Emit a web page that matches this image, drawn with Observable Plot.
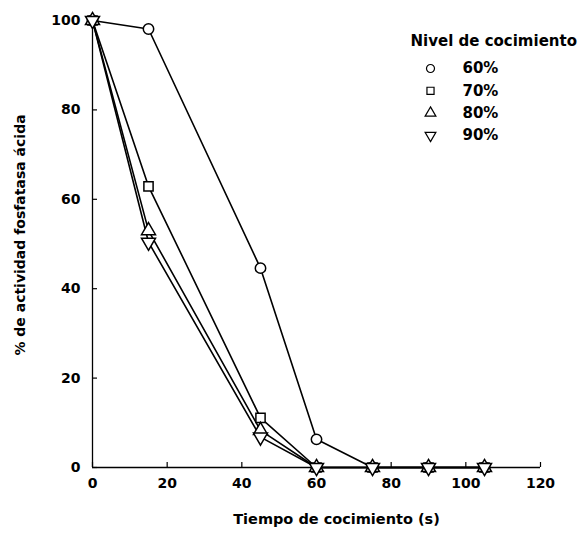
<!DOCTYPE html>
<html>
<head>
<meta charset="utf-8">
<script src="https://cdn.jsdelivr.net/npm/d3@7"></script>
<script src="https://cdn.jsdelivr.net/npm/@observablehq/plot@0.6"></script>
<style>
  html, body { margin: 0; padding: 0; background: #fff; }
</style>
</head>
<body>
<div id="chart"></div>
<script>
// ---- data ----
const times = [0, 15, 45, 60, 75, 90, 105];
const levels = ["60%", "70%", "80%", "90%"];
const s60 = [100, 98.1, 44.6, 6.3, 0, 0, 0];
const s70 = [100, 62.9, 11.1, 0, 0, 0, 0];
const s80 = [100, 53.0, 8.3, 0, 0, 0, 0];
const s90 = [100, 50.4, 6.8, 0, 0, 0, 0];
const xTicks = [0, 20, 40, 60, 80, 100, 120];
const yTicks = [0, 20, 40, 60, 80, 100];
const xLabel = "Tiempo de cocimiento (s)";
const yLabel = "% de actividad fosfatasa ácida";
const legendTitle = "Nivel de cocimiento";

const seriesValues = [s60, s70, s80, s90];
const data = [];
levels.forEach((lv, i) => times.forEach((t, j) => data.push({series: lv, t, v: seriesValues[i][j]})));

const sqrt3 = Math.sqrt(3);
const triangleDown = {
  draw(context, size) {
    const y = -Math.sqrt(size / (sqrt3 * 3));
    context.moveTo(0, -y * 2);
    context.lineTo(-sqrt3 * y, y);
    context.lineTo(sqrt3 * y, y);
    context.closePath();
  }
};

const legendMarks = [
  Plot.text([legendTitle], {frameAnchor: "top-left", text: d => d, dx: 318, dy: 21, textAnchor: "start", lineAnchor: "middle", fontSize: 15}),
  ...levels.map((lv, i) => Plot.dot([lv], {frameAnchor: "top-left", symbol: d => d, dx: 338, dy: 48 + i * 22.3, r: 4, stroke: "black", strokeWidth: 1.2, fill: "white"})),
  ...levels.map((lv, i) => Plot.text([lv], {frameAnchor: "top-left", text: d => d, dx: 370, dy: 48 + i * 22.3, textAnchor: "start", lineAnchor: "middle", fontSize: 15}))
];

const chart = Plot.plot({
  width: 581,
  height: 538,
  marginLeft: 92,
  marginRight: 41,
  marginTop: 20,
  marginBottom: 71,
  style: "font-family: 'DejaVu Sans'; font-weight: bold; font-size: 14px; background: #fff; color: #000; overflow: visible;",
  x: {domain: [0, 120]},
  y: {domain: [0, 100]},
  symbol: {domain: levels, range: ["circle", "square", "triangle", triangleDown], legend: false},
  marks: [
    // inward tick marks (from the axis baseline, 5px into the plot)
    Plot.ruleX(xTicks, {x: d => d, y1: 0, y2: 0, insetTop: -5, stroke: "black", strokeWidth: 1.2}),
    Plot.ruleY(yTicks, {y: d => d, x1: 0, x2: 0, insetRight: -5, stroke: "black", strokeWidth: 1.2}),
    // tick labels
    Plot.axisX({ticks: xTicks, tickSize: 0, tickPadding: 11, label: null, fontSize: 14}),
    Plot.axisY({ticks: yTicks, tickSize: 0, tickPadding: 12, label: null, fontSize: 14}),
    Plot.ruleX([0], {stroke: "black", strokeWidth: 1.3}),
    Plot.ruleY([0], {stroke: "black", strokeWidth: 1.3}),
    Plot.line(data, {x: "t", y: "v", z: "series", stroke: "black", strokeWidth: 1.6}),
    Plot.dot(data, {x: "t", y: "v", symbol: "series", r: 5.2, fill: "white", stroke: "black", strokeWidth: 1.5}),
    Plot.text([xLabel], {frameAnchor: "bottom", text: d => d, dx: 20, dy: 52, lineAnchor: "middle", textAnchor: "middle", fontSize: 14.5}),
    Plot.text([yLabel], {frameAnchor: "left", text: d => d, rotate: -90, dx: -72, dy: -9, lineAnchor: "middle", textAnchor: "middle", fontSize: 14}),
    ...legendMarks
  ]
});
document.getElementById("chart").appendChild(chart);
</script>
</body>
</html>
